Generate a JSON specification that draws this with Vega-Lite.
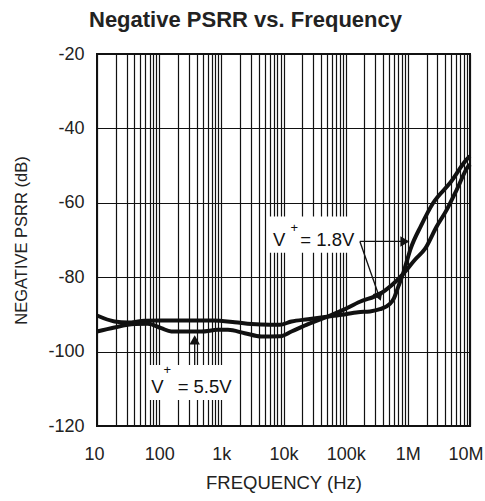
{
  "$schema": "https://vega.github.io/schema/vega-lite/v6.json",
  "width": 373,
  "height": 372,
  "autosize": {"type": "none"},
  "padding": {"left": 97, "top": 54, "right": 15, "bottom": 75},
  "background": "white",
  "config": {"font": "Liberation Sans", "view": {"stroke": "#111", "strokeWidth": 2}},
  "title": {"text": "Negative PSRR vs. Frequency", "fontSize": 22, "fontWeight": "bold", "font": "Liberation Sans", "color": "#222", "anchor": "middle", "frame": "group", "dx": -38, "offset": 13},
  "datasets": {
    "curves": [
      {"series": "1.8V", "f": 10, "db": -90.3},
      {"series": "1.8V", "f": 19.1, "db": -91.9},
      {"series": "1.8V", "f": 31.3, "db": -92.2},
      {"series": "1.8V", "f": 58.2, "db": -91.7},
      {"series": "1.8V", "f": 108, "db": -91.65},
      {"series": "1.8V", "f": 309, "db": -91.65},
      {"series": "1.8V", "f": 733, "db": -91.65},
      {"series": "1.8V", "f": 1640, "db": -92.1},
      {"series": "1.8V", "f": 3048, "db": -92.6},
      {"series": "1.8V", "f": 6012, "db": -92.8},
      {"series": "1.8V", "f": 8710, "db": -92.8},
      {"series": "1.8V", "f": 13430, "db": -91.9},
      {"series": "1.8V", "f": 24880, "db": -91.3},
      {"series": "1.8V", "f": 46240, "db": -90.7},
      {"series": "1.8V", "f": 85900, "db": -90.1},
      {"series": "1.8V", "f": 158900, "db": -89.4},
      {"series": "1.8V", "f": 245300, "db": -89.2},
      {"series": "1.8V", "f": 355600, "db": -88.6},
      {"series": "1.8V", "f": 515000, "db": -87.2},
      {"series": "1.8V", "f": 600000, "db": -85.6},
      {"series": "1.8V", "f": 700000, "db": -82.6},
      {"series": "1.8V", "f": 843000, "db": -78.9},
      {"series": "1.8V", "f": 1122000, "db": -72.1},
      {"series": "1.8V", "f": 1626000, "db": -66.2},
      {"series": "1.8V", "f": 2566000, "db": -60.0},
      {"series": "1.8V", "f": 4764000, "db": -54.7},
      {"series": "1.8V", "f": 9390000, "db": -47.9},
      {"series": "1.8V", "f": 10000000, "db": -47.5},
      {"series": "5.5V", "f": 10, "db": -94.6},
      {"series": "5.5V", "f": 19.1, "db": -93.5},
      {"series": "5.5V", "f": 40.2, "db": -92.6},
      {"series": "5.5V", "f": 65.8, "db": -92.5},
      {"series": "5.5V", "f": 108, "db": -93.7},
      {"series": "5.5V", "f": 156.7, "db": -94.6},
      {"series": "5.5V", "f": 256.6, "db": -94.6},
      {"series": "5.5V", "f": 476.6, "db": -94.6},
      {"series": "5.5V", "f": 882, "db": -94.15},
      {"series": "5.5V", "f": 1279, "db": -94.15},
      {"series": "5.5V", "f": 2376, "db": -95.05},
      {"series": "5.5V", "f": 4415, "db": -95.95},
      {"series": "5.5V", "f": 8710, "db": -95.9},
      {"series": "5.5V", "f": 13430, "db": -94.6},
      {"series": "5.5V", "f": 24880, "db": -92.6},
      {"series": "5.5V", "f": 46240, "db": -90.9},
      {"series": "5.5V", "f": 85900, "db": -89.0},
      {"series": "5.5V", "f": 169300, "db": -86.6},
      {"series": "5.5V", "f": 355600, "db": -84.5},
      {"series": "5.5V", "f": 843000, "db": -79.1},
      {"series": "5.5V", "f": 1301000, "db": -75.3},
      {"series": "5.5V", "f": 1884000, "db": -72.4},
      {"series": "5.5V", "f": 2910000, "db": -66.35},
      {"series": "5.5V", "f": 4217000, "db": -61.9},
      {"series": "5.5V", "f": 6109000, "db": -56.5},
      {"series": "5.5V", "f": 9390000, "db": -50.2},
      {"series": "5.5V", "f": 10000000, "db": -49.7}
    ],
    "boxes": [
      {"f": 5575, "f2": 157100, "db": -63.7, "db2": -73.4},
      {"f": 65, "f2": 1833, "db": -103.6, "db2": -113.0}
    ],
    "arrows": [
      {"f": 372.7, "f2": 372.7, "db": -103.6, "db2": -97.5},
      {"f": 169300, "f2": 897000, "db": -70.39, "db2": -70.39},
      {"f": 169300, "f2": 346000, "db": -70.39, "db2": -85.2}
    ],
    "labels": [
      {"f": 6792, "db": -71.7, "text": "V"},
      {"f": 18620, "db": -71.7, "text": "= 1.8V"},
      {"f": 74.6, "db": -111.2, "text": "V"},
      {"f": 198.2, "db": -111.2, "text": "= 5.5V"}
    ],
    "sups": [
      {"f": 12950, "db": -67.8, "text": "+"},
      {"f": 117.8, "db": -105.9, "text": "+"}
    ]
  },
  "encoding": {
    "x": {
      "field": "f", "type": "quantitative",
      "scale": {"type": "log", "domain": [10, 10000000]},
      "axis": {
        "title": "FREQUENCY (Hz)",
        "values": [10,20,30,40,50,60,70,80,90,100,200,300,400,500,600,700,800,900,1000,2000,3000,4000,5000,6000,7000,8000,9000,10000,20000,30000,40000,50000,60000,70000,80000,90000,100000,200000,300000,400000,500000,600000,700000,800000,900000,1000000,2000000,3000000,4000000,5000000,6000000,7000000,8000000,9000000,10000000],
        "labelExpr": "datum.value == 10 ? '10' : datum.value == 100 ? '100' : datum.value == 1000 ? '1k' : datum.value == 10000 ? '10k' : datum.value == 100000 ? '100k' : datum.value == 1000000 ? '1M' : datum.value == 10000000 ? '10M' : ''",
        "grid": true, "gridColor": "#111", "gridWidth": 1.2, "gridOpacity": 1,
        "ticks": false, "domain": false,
        "labelFontSize": 18, "labelColor": "#222", "labelPadding": 19,
        "labelOverlap": false, "labelFlush": true, "labelFlushOffset": 13, "labelBound": false,
        "titleFontSize": 18.5, "titleFontWeight": "normal", "titleColor": "#222", "titlePadding": 10
      }
    },
    "y": {
      "field": "db", "type": "quantitative",
      "scale": {"domain": [-120, -20]},
      "axis": {
        "title": "NEGATIVE PSRR (dB)",
        "values": [-120, -100, -80, -60, -40, -20],
        "labelExpr": "'' + datum.value",
        "grid": true, "gridColor": "#111", "gridWidth": 1.2, "gridOpacity": 1,
        "ticks": false, "domain": false,
        "labelFontSize": 18, "labelColor": "#222", "labelPadding": 13,
        "titleFontSize": 16.5, "titleFontWeight": "normal", "titleColor": "#222", "titlePadding": 18
      }
    }
  },
  "layer": [
    {"data": {"name": "boxes"}, "mark": {"type": "rect", "fill": "white", "stroke": null}, "encoding": {"x2": {"field": "f2"}, "y2": {"field": "db2"}}},
    {"data": {"name": "curves"}, "mark": {"type": "line", "color": "#111", "strokeWidth": 4, "interpolate": "monotone"}, "encoding": {"detail": {"field": "series"}}},
    {"data": {"name": "arrows"}, "mark": {"type": "rule", "color": "#111", "strokeWidth": 1.3}, "encoding": {"x2": {"field": "f2"}, "y2": {"field": "db2"}}},
    {"data": {"values": [{"f": 372.7, "db": -96.85}]}, "mark": {"type": "point", "shape": "triangle-up", "filled": true, "color": "#111", "opacity": 1, "size": 110}},
    {"data": {"values": [{"f": 897000, "db": -70.39}]}, "mark": {"type": "point", "shape": "triangle-right", "filled": true, "color": "#111", "opacity": 1, "size": 110}},
    {"data": {"values": [{"f": 346000, "db": -85.2}]}, "mark": {"type": "point", "shape": "triangle-down", "angle": -21, "filled": true, "color": "#111", "opacity": 1, "size": 110}},
    {"data": {"name": "labels"}, "mark": {"type": "text", "fontSize": 18.5, "align": "left", "baseline": "alphabetic", "color": "#111"}, "encoding": {"text": {"field": "text"}}},
    {"data": {"name": "sups"}, "mark": {"type": "text", "fontSize": 13, "align": "left", "baseline": "alphabetic", "color": "#111"}, "encoding": {"text": {"field": "text"}}}
  ]
}
